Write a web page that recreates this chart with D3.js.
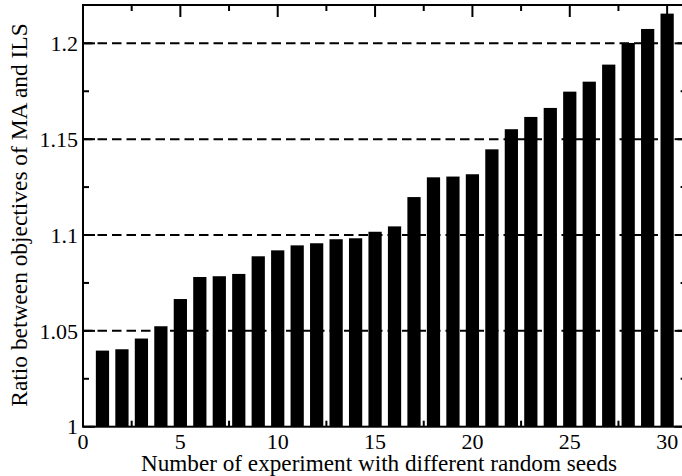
<!DOCTYPE html>
<html>
<head>
<meta charset="utf-8">
<script src="https://cdn.jsdelivr.net/npm/d3@7/dist/d3.min.js"></script>
<style>
  html, body { margin: 0; padding: 0; background: #fff; }
  svg { display: block; }
  text { font-family: "Liberation Serif", "Times New Roman", serif; fill: #000; }
</style>
</head>
<body>
<svg id="chart" width="682" height="476"></svg>
<script>
const experiments = d3.range(1, 31);
const ratios = [
  1.0397, 1.0404, 1.0460, 1.0524, 1.0666, 1.0781, 1.0785, 1.0797, 1.0889, 1.0920,
  1.0946, 1.0957, 1.0978, 1.0983, 1.1017, 1.1045, 1.1198, 1.1301, 1.1305, 1.1317,
  1.1447, 1.1552, 1.1616, 1.1663, 1.1748, 1.1800, 1.1889, 1.2002, 1.2075, 1.2155
];
const xMajorTicks = [0, 5, 10, 15, 20, 25, 30];
const xMinorTicks = [2.5, 7.5, 12.5, 17.5, 22.5, 27.5];
const yMajorTicks = [1, 1.05, 1.1, 1.15, 1.2];
const yMinorTicks = [1.025, 1.075, 1.125, 1.175];
const gridValues = [1.05, 1.1, 1.15, 1.2];
const xTitle = "Number of experiment with different random seeds";
const yTitle = "Ratio between objectives of MA and ILS";

const svg = d3.select("#chart");
const L = 83, R = 686.6, T = 5, B = 426.7;
const x = d3.scaleLinear().domain([0, 31]).range([L, R]);
const y = d3.scaleLinear().domain([1, 1.22]).range([B, T]);
const barW = x(0.68) - x(0);

// grid lines (behind bars)
svg.append("g").selectAll("line").data(gridValues).join("line")
  .attr("x1", L).attr("x2", R)
  .attr("y1", d => y(d)).attr("y2", d => y(d))
  .attr("stroke", "#000").attr("stroke-width", 2)
  .attr("stroke-dasharray", "9.5,5");

// ticks
const ticks = svg.append("g").attr("stroke", "#000").attr("stroke-width", 2);
xMajorTicks.forEach(v => {
  ticks.append("line").attr("x1", x(v)).attr("x2", x(v)).attr("y1", B).attr("y2", B - 12);
  ticks.append("line").attr("x1", x(v)).attr("x2", x(v)).attr("y1", T).attr("y2", T + 12);
});
xMinorTicks.forEach(v => {
  ticks.append("line").attr("x1", x(v)).attr("x2", x(v)).attr("y1", B).attr("y2", B - 6);
  ticks.append("line").attr("x1", x(v)).attr("x2", x(v)).attr("y1", T).attr("y2", T + 6);
});
yMajorTicks.forEach(v => {
  ticks.append("line").attr("y1", y(v)).attr("y2", y(v)).attr("x1", L).attr("x2", L + 12);
  ticks.append("line").attr("y1", y(v)).attr("y2", y(v)).attr("x1", R).attr("x2", R - 12);
});
yMinorTicks.forEach(v => {
  ticks.append("line").attr("y1", y(v)).attr("y2", y(v)).attr("x1", L).attr("x2", L + 6);
  ticks.append("line").attr("y1", y(v)).attr("y2", y(v)).attr("x1", R).attr("x2", R - 6);
});

// bars
svg.append("g").selectAll("rect").data(ratios).join("rect")
  .attr("x", (d, i) => x(experiments[i]) - barW / 2)
  .attr("width", barW)
  .attr("y", d => y(d))
  .attr("height", d => y(1) - y(d))
  .attr("fill", "#000");

// frame
svg.append("rect").attr("x", L).attr("y", T).attr("width", R - L).attr("height", B - T)
  .attr("fill", "none").attr("stroke", "#000").attr("stroke-width", 2);

// tick labels
svg.append("g").selectAll("text").data(xMajorTicks).join("text")
  .attr("x", d => x(d)).attr("y", 449)
  .attr("text-anchor", "middle").attr("font-size", 22)
  .text(d => d);
svg.append("g").selectAll("text").data(yMajorTicks).join("text")
  .attr("x", 78).attr("y", d => y(d)).attr("dy", "0.35em")
  .attr("text-anchor", "end").attr("font-size", 22)
  .text(d => d3.format("")(d));

// axis titles
svg.append("text").attr("x", 379).attr("y", 471)
  .attr("text-anchor", "middle").attr("font-size", 23.2).text(xTitle);
svg.append("text").attr("transform", `translate(27,215) rotate(-90)`)
  .attr("text-anchor", "middle").attr("font-size", 23.4).text(yTitle);
</script>
</body>
</html>
